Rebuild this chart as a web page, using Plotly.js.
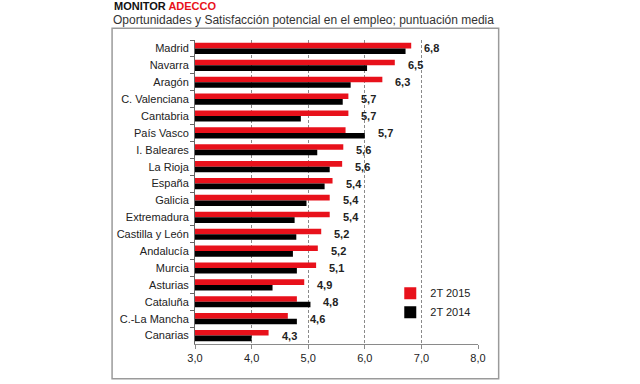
<!DOCTYPE html>
<html>
<head>
<meta charset="utf-8">
<script src="https://cdn.plot.ly/plotly-3.0.1.min.js"></script>
<style>html,body{margin:0;padding:0;background:#fff;}#chart{width:640px;height:384px;}</style>
</head>
<body>
<div id="chart"></div>
<script>
const regions = ["Madrid","Navarra","Aragón","C. Valenciana","Cantabria","País Vasco","I. Baleares","La Rioja","España","Galicia","Extremadura","Castilla y León","Andalucía","Murcia","Asturias","Cataluña","C.-La Mancha","Canarias"];
const values2015 = [6.82,6.53,6.31,5.71,5.71,5.66,5.62,5.60,5.43,5.38,5.38,5.23,5.17,5.14,4.93,4.80,4.64,4.30];
const values2014 = [6.72,6.04,5.75,5.61,4.87,6.00,5.16,5.38,5.29,4.97,4.76,4.79,4.73,4.80,4.37,5.04,4.80,4.00];
const labels2015 = ["6,8","6,5","6,3","5,7","5,7","5,7","5,6","5,6","5,4","5,4","5,4","5,2","5,2","5,1","4,9","4,8","4,6","4,3"];
const xTicks = [3,4,5,6,7,8];

const FONT = "Arial, 'Liberation Sans', sans-serif";
const RED = "#e8111b";

const traces = [
  {type:"bar", orientation:"h", name:"2T 2015", y:regions, x:values2015, marker:{color:RED}, hoverinfo:"x+y"},
  {type:"bar", orientation:"h", name:"2T 2014", y:regions, x:values2014, marker:{color:"#000000"}, hoverinfo:"x+y"}
];

const annotations = regions.map((r,i)=>({
  x: Math.max(values2015[i], values2014[i]), y: r, xref:"x", yref:"y",
  text: "<b>"+labels2015[i]+"</b>", showarrow:false, xanchor:"left", xshift:11,
  font:{family:FONT, size:11, color:"#222"}
}));
annotations.push({xref:"paper", yref:"paper", x:-0.29, y:1.112, xanchor:"left", yanchor:"middle", showarrow:false, borderpad:0,
  text:"<b>MONITOR <span style='color:"+RED+"'>ADECCO</span></b>", font:{family:FONT, size:11, color:"#111"}});
annotations.push({xref:"paper", yref:"paper", x:-0.294, y:1.066, xanchor:"left", yanchor:"middle", showarrow:false, borderpad:0,
  text:"Oportunidades y Satisfacción potencial en el empleo; puntuación media", font:{family:FONT, size:12, color:"#333"}});

const layout = {
  width:640, height:384,
  margin:{l:195, r:162, t:40, b:40},
  paper_bgcolor:"#fff", plot_bgcolor:"#fff",
  separators:",.",
  font:{family:FONT, size:11, color:"#222"},
  barmode:"group", bargap:0.34, bargroupgap:0,
  showlegend:true,
  legend:{x:0.69, y:0.215, xanchor:"left", yanchor:"top", bgcolor:"rgba(0,0,0,0)", font:{family:FONT, size:11, color:"#222"}, tracegroupgap:0},
  xaxis:{range:[3,8], tickvals:xTicks, tickformat:".1f", showgrid:true, gridcolor:"#8a8a8a", griddash:"3px,2px", gridwidth:1,
    showline:true, linecolor:"#8a8a8a", linewidth:1, ticks:"outside", ticklen:4, tickcolor:"#8a8a8a", zeroline:false,
    tickfont:{family:FONT, size:11, color:"#222"}, fixedrange:true},
  yaxis:{type:"category", autorange:"reversed", showline:true, linecolor:"#666", linewidth:1, ticks:"outside", ticklen:4, tickcolor:"#666",
    tickson:"boundaries", showgrid:false, tickfont:{family:FONT, size:11, color:"#222"}, ticklabelstandoff:3, fixedrange:true},
  shapes:[{type:"rect", xref:"paper", yref:"paper", x0:-0.293, x1:1.073, y0:-0.114, y1:1.0385, line:{color:"#9a9a9a", width:1.5}, fillcolor:"rgba(0,0,0,0)", layer:"below"}],
  annotations: annotations
};
Plotly.newPlot("chart", traces, layout, {displayModeBar:false, staticPlot:true});
</script>
</body>
</html>
